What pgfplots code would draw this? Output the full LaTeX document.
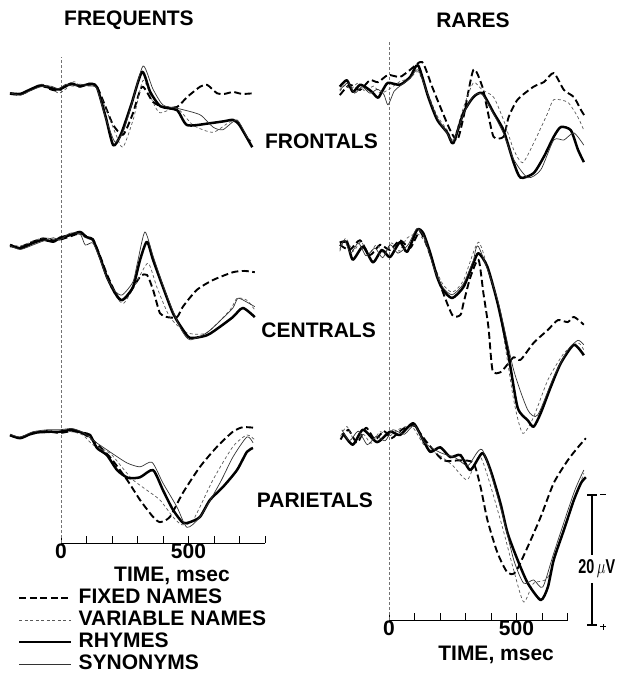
\documentclass[border=0pt]{standalone}
\usepackage{fontspec}
\setmainfont{Liberation Sans}
\usepackage{pgfplots}
\pgfplotsset{compat=1.18}
\newcommand\lbl{\fontsize{21}{24}\selectfont\bfseries}
\tikzset{
  fixedst/.style={black, line width=1.9pt, dash pattern=on 7pt off 3.5pt},
  varst/.style={black!65, line width=0.7pt, dash pattern=on 3pt off 2.5pt},
  rhymst/.style={black, line width=2.5pt},
  synst/.style={black!80, line width=0.7pt},
}
\pgfplotsset{
  panel/.style={scale only axis, width=265.2pt, height=130pt,
    xmin=-240, xmax=800, ymin=-10, ymax=10, y dir=reverse,
    axis lines=none, clip=false, anchor=south west},
  every axis plot/.append style={smooth, tension=0.4, mark=none, line join=round},
  frame/.style={scale only axis, anchor=south west, ymin=0, ymax=1,
    axis x line=bottom, axis y line=left,
    x axis line style={-, black, line width=0.9pt},
    y axis line style={-, black!55, line width=0.6pt, densely dashed},
    ytick=\empty, tick align=inside, major tick length=7pt,
    every tick/.style={black, line width=0.8pt},
    xticklabel style={font=\lbl, anchor=north, inner sep=1pt},
    xlabel style={font=\lbl, anchor=center, inner sep=0pt}},
}
\begin{document}
\begin{tikzpicture}[x=1pt,y=1pt]
\useasboundingbox (0,0) rectangle (616,677);

% ---------- frames (time axes and zero lines) ----------
\begin{axis}[frame, width=204pt, height=486pt, at={(61pt,134pt)},
  xmin=0, xmax=800, xtick={0,100,...,800}, xticklabels={0,,,,,500,,,},
  xlabel={TIME, msec}, xlabel style={at={(axis description cs:0.544,0)}, yshift=-33pt},
  legend style={at={(axis description cs:-0.2255,-0.0864)}, anchor=north west,
    draw=none, fill=none, font=\lbl, row sep=0pt,
    nodes={inner sep=1pt, text height=15pt, text depth=5pt},
    cells={anchor=west}},
  legend image code/.code={\draw[#1] (0pt,0pt) -- (52pt,0pt); \path (57pt,0pt);},
]
\addlegendimage{fixedst}\addlegendentry{FIXED NAMES}
\addlegendimage{varst}\addlegendentry{VARIABLE NAMES}
\addlegendimage{rhymst}\addlegendentry{RHYMES}
\addlegendimage{synst}\addlegendentry{SYNONYMS}
\end{axis}

\begin{axis}[frame, width=178.5pt, height=578pt, at={(389pt,57pt)},
  xmin=0, xmax=700, xtick={0,100,...,700}, xticklabels={0,,,,,500,,},
  xlabel={TIME, msec}, xlabel style={at={(axis description cs:0.6,0)}, yshift=-35pt},
]
\end{axis}

% ---------- FREQUENTS / FRONTALS ----------
\begin{axis}[panel, at={(-0.2pt,520pt)}]
\addplot[fixedst] coordinates {(-200,0.3) (-160,0.4) (-120,-0.3) (-80,-1.0) (-40,-0.4) (-10,-0.2) (20,-1.0) (45,-1.2) (75,-0.8) (110,-1.3) (140,-0.9) (180,2.8) (205,5.1) (243,6.6) (280,3.5) (318,-0.8) (360,1.5) (400,2.3) (455,2.3) (494,0.8) (545,-0.8) (573,-1.1) (612,0.2) (640,0.3) (675,0) (710,0.3) (753,0.2)};
\addplot[varst] coordinates {(-200,0.1) (-160,0.2) (-120,-0.5) (-80,-1.2) (-40,-0.8) (-10,0.2) (20,-0.5) (50,-1.6) (75,-1.0) (110,-1.0) (140,-0.6) (180,3.0) (215,6.5) (243,8.5) (285,4.0) (322,-1.8) (360,1.5) (388,3.2) (455,2.5) (518,5.1) (596,6.2) (663,4.6) (700,5.0) (735,7.6)};
\addplot[rhymst] coordinates {(-200,0.2) (-160,0.3) (-120,-0.4) (-80,-1.0) (-40,-0.6) (-10,-0.4) (20,-0.9) (40,-1.3) (75,-0.9) (110,-1.2) (140,-0.8) (175,3.8) (205,8.2) (235,6.5) (275,2.0) (318,-3.1) (350,0) (390,2.2) (455,2.8) (495,5.1) (585,4.8) (640,4.5) (675,4.3) (700,5.1) (750,8.5)};
\addplot[synst] coordinates {(-200,0.1) (-160,0.5) (-120,-0.2) (-80,-0.8) (-40,-0.9) (-10,-0.5) (20,-1.2) (45,-0.9) (75,-1.2) (110,-0.9) (140,-0.6) (175,4.0) (212,7.7) (245,6.0) (280,1.5) (322,-4.0) (360,-0.5) (400,2.0) (455,2.5) (545,3.5) (596,5.4) (635,5.8) (690,4.3) (729,6.9) (745,7.5)};
\end{axis}

% ---------- FREQUENTS / CENTRALS ----------
\begin{axis}[panel, at={(-0.2pt,369pt)}]
\addplot[fixedst] coordinates {(-200,0.5) (-160,0.6) (-110,-0.2) (-70,-0.7) (-30,-0.4) (-5,-0.5) (35,-1.0) (75,-1.5) (100,-1.0) (125,-0.6) (153,2.0) (180,4.8) (205,7.0) (231,8.8) (260,8.2) (310,5.2) (337,4.9) (361,7.2) (388,10.8) (416,11.4) (455,11.4) (478,9.8) (533,7.2) (596,5.7) (674,4.5) (720,4.3) (760,4.5)};
\addplot[varst] coordinates {(-200,0.2) (-160,0.5) (-110,-0.3) (-70,-0.8) (-30,-0.6) (-5,-0.4) (35,-1.4) (75,-1.3) (100,-0.7) (125,-0.3) (153,2.5) (180,5.5) (212,8.0) (245,9.3) (290,6.5) (341,3.1) (376,6.8) (427,11.4) (494,13.8) (572,13.8) (663,10.3) (690,8.5) (729,8.8) (760,10.3)};
\addplot[rhymst] coordinates {(-200,0.3) (-160,0.8) (-110,0) (-70,-0.5) (-30,-0.2) (-5,-0.8) (35,-1.2) (75,-1.7) (100,-0.9) (125,-0.5) (153,2.2) (180,5.2) (212,7.7) (240,8.8) (282,6.8) (310,2.6) (337,-0.2) (361,2.6) (400,6.8) (439,10.8) (474,13.1) (506,14.6) (572,14.2) (623,12.9) (674,11.4) (713,10.0) (760,11.4)};
\addplot[synst] coordinates {(-200,0.4) (-160,1.0) (-110,0.3) (-70,-0.3) (-30,-0.8) (-5,-0.5) (35,-1.5) (75,-1.4) (95,0.3) (125,0) (153,2.5) (180,5.4) (212,7.4) (240,8.0) (282,6.0) (300,3.0) (329,-1.7) (361,2.0) (400,6.5) (439,10.5) (474,13.5) (506,14.9) (572,13.8) (623,12.0) (674,10.0) (694,8.5) (729,9.1) (760,9.8)};
\end{axis}

% ---------- FREQUENTS / PARIETALS ----------
\begin{axis}[panel, at={(-0.2pt,177pt)}]
\addplot[fixedst] coordinates {(-200,0.1) (-160,0.4) (-110,-0.2) (-55,-0.6) (-5,-0.3) (43,-0.6) (86,-0.2) (125,0.8) (192,3.4) (259,6.9) (310,10.0) (361,12.6) (388,13.4) (427,12.6) (478,8.9) (545,4.9) (612,1.8) (674,-0.5) (713,-1.2) (761,-1.1)};
\addplot[varst] coordinates {(-200,0.2) (-160,0.3) (-110,-0.4) (-55,-0.3) (-5,-0.6) (43,-0.5) (86,0) (125,1.5) (192,2.8) (240,5.0) (282,6.9) (337,8.5) (388,10.0) (439,12.6) (474,13.8) (518,13.1) (596,6.9) (674,1.8) (729,0) (761,0.8)};
\addplot[rhymst] coordinates {(-200,0) (-160,0.5) (-110,-0.3) (-55,-0.5) (-5,-0.5) (43,-0.8) (86,-0.3) (114,0) (141,2.0) (180,3.1) (220,5.4) (263,6.6) (310,6.5) (361,5.4) (400,8.5) (439,11.5) (478,13.5) (506,13.4) (545,12.6) (584,10.0) (635,8.0) (690,5.4) (729,2.6) (753,2.0)};
\addplot[synst] coordinates {(-200,-0.1) (-160,0.3) (-110,-0.5) (-55,-0.8) (-5,-0.8) (43,-1.0) (86,-0.4) (125,0.8) (192,2.6) (259,4.3) (310,4.9) (357,4.2) (400,7.4) (455,11.1) (494,14.2) (545,12.6) (623,7.4) (674,3.4) (729,0.3) (753,1.2)};
\end{axis}

% ---------- RARES / FRONTALS ----------
\begin{axis}[panel, at={(327.8pt,524pt)}]
\addplot[fixedst] coordinates {(-193,1.1) (-154,-0.5) (-114,0.3) (-75,-1.2) (-43,-0.9) (-4,-2.0) (43,-1.7) (83,-2.8) (130,-4.0) (169,-0.2) (201,2.9) (240,6.5) (268,8.0) (292,4.5) (331,-2.8) (366,-0.2) (386,3.4) (410,7.5) (449,7.5) (469,4.5) (504,1.8) (567,-0.2) (607,-0.9) (646,-2.3) (686,0.3) (725,1.4) (753,3.4) (772,4.6)};
\addplot[varst] coordinates {(-193,0.5) (-170,-0.5) (-150,0.2) (-120,-0.8) (-95,0.5) (-60,-0.3) (-35,0.8) (-4,0.3) (43,-1.0) (83,-1.5) (114,-2.5) (154,1.0) (189,4.3) (229,6.5) (252,8.0) (292,3.0) (331,-0.8) (366,0.3) (410,1.4) (449,4.9) (489,9.5) (524,11.5) (567,8.5) (623,3.8) (646,1.8) (701,2.2) (741,4.5) (764,6.5)};
\addplot[rhymst] coordinates {(-193,-0.2) (-165,-1.2) (-142,0.6) (-114,-0.5) (-87,0) (-67,0.6) (-43,1.5) (-24,0.3) (-4,-0.8) (43,-0.5) (83,-1.7) (114,-3.5) (154,1.4) (189,4.9) (229,6.9) (252,8.5) (292,3.8) (331,1.4) (366,0.8) (410,3.8) (449,6.5) (489,11.5) (516,13.8) (567,13.1) (607,10.6) (646,7.5) (674,6.0) (713,6.5) (741,9.5) (764,11.4)};
\addplot[synst] coordinates {(-193,0.3) (-160,-0.8) (-135,0.8) (-105,-0.2) (-75,0.8) (-45,0.2) (-20,1.0) (-4,2.6) (20,0.5) (43,-0.3) (83,-1.5) (114,-2.8) (154,1.2) (189,4.6) (229,7.0) (252,8.2) (292,4.0) (331,1.2) (366,1.0) (410,4.0) (449,7.0) (489,11.0) (544,13.8) (595,12.6) (646,8.0) (686,8.0) (725,6.9) (764,8.8)};
\end{axis}

% ---------- RARES / CENTRALS ----------
\begin{axis}[panel, at={(327.8pt,364pt)}]
\addplot[fixedst] coordinates {(-193,-0.5) (-154,0.3) (-114,-1.2) (-75,1.1) (-35,-0.5) (4,0.3) (43,-1.2) (83,0) (122,-2.5) (162,1.1) (201,5.7) (248,10.3) (280,10.3) (292,8.5) (319,4.5) (351,1.8) (370,6.9) (390,12.2) (406,18.8) (437,19.1) (469,17.7) (489,16.8) (516,17.2) (567,14.6) (623,12.6) (662,11.1) (701,11.4) (725,10.6) (764,11.8)};
\addplot[varst] coordinates {(-193,0.5) (-170,-1.5) (-140,0.5) (-110,-1.0) (-80,1.0) (-50,-0.5) (-20,0.8) (10,-0.8) (40,0.5) (70,-1.5) (110,-2.2) (140,-1.0) (175,2.5) (210,5.5) (248,6.8) (292,5.0) (351,-0.9) (398,4.9) (437,10.6) (489,23.4) (524,28.5) (567,26.0) (623,20.3) (686,16.2) (741,14.6) (764,15.7)};
\addplot[rhymst] coordinates {(-193,-0.8) (-165,-0.9) (-142,1.8) (-102,-0.2) (-63,2.2) (-28,0.3) (4,1.4) (43,-0.9) (71,0.6) (110,-2.8) (134,-2.3) (162,0.8) (189,4.5) (213,6.5) (248,7.7) (292,6.0) (331,2.3) (351,0.8) (386,2.9) (426,8.5) (465,15.7) (504,24.5) (544,26.5) (567,27.5) (595,25.4) (634,21.4) (674,17.7) (725,14.9) (764,16.5)};
\addplot[synst] coordinates {(-193,0.2) (-175,-1.2) (-150,0.8) (-120,-0.8) (-90,1.2) (-55,0) (-25,1.5) (5,-0.5) (35,0.8) (75,-0.5) (110,-3.0) (140,-1.5) (175,3.0) (210,6.0) (248,7.2) (292,5.5) (330,2.0) (351,-0.2) (426,8.0) (489,18.8) (544,24.9) (583,25.7) (646,19.8) (701,15.7) (741,14.2) (764,14.9)};
\end{axis}

% ---------- RARES / PARIETALS ----------
\begin{axis}[panel, at={(327.8pt,179pt)}]
\addplot[fixedst] coordinates {(-190,1.0) (-160,-0.5) (-125,1.5) (-90,-0.8) (-55,1.0) (-20,-0.3) (10,0.8) (50,-0.5) (95,-1.2) (150,1.5) (213,4.2) (280,4.2) (331,4.6) (359,8.3) (386,13.4) (426,18.5) (465,21.5) (496,21.4) (544,17.5) (595,12.9) (646,7.7) (701,4.2) (741,2.2) (772,0.8)};
\addplot[varst] coordinates {(-190,0.5) (-165,-1.0) (-135,1.2) (-100,0.2) (-70,1.6) (-35,-0.2) (0,0.5) (40,-0.6) (90,-1.0) (140,2.0) (200,3.5) (250,5.0) (307,7.2) (359,3.7) (437,13.4) (489,21.1) (528,26.0) (567,23.1) (623,22.2) (686,14.9) (764,6.2)};
\addplot[rhymst] coordinates {(-181,0) (-142,1.8) (-102,-0.5) (-47,1.4) (4,-0.2) (43,0.3) (95,-1.5) (134,1.1) (162,2.9) (201,2.2) (240,3.7) (280,3.4) (319,5.7) (366,3.1) (398,5.7) (437,10.8) (465,15.4) (504,19.5) (544,23.1) (595,25.7) (623,23.7) (646,19.5) (686,14.9) (725,10.3) (753,7.7) (772,6.8)};
\addplot[synst] coordinates {(-185,-0.5) (-155,1.2) (-120,-0.3) (-85,1.8) (-50,0.5) (-15,1.2) (15,-0.5) (60,0.2) (100,-1.2) (140,1.5) (200,3.0) (260,3.8) (310,5.0) (366,2.6) (437,11.4) (489,19.5) (528,23.1) (567,22.6) (603,23.7) (646,18.5) (725,9.2) (764,5.7)};
\end{axis}

% ---------- titles and labels ----------
\node[font=\lbl, inner sep=0pt] at (129,657) {FREQUENTS};
\node[font=\lbl, inner sep=0pt] at (473,657) {RARES};
\node[font=\lbl, inner sep=0pt, anchor=east] at (378,536) {FRONTALS};
\node[font=\lbl, inner sep=0pt, anchor=east] at (376,347) {CENTRALS};
\node[font=\lbl, inner sep=0pt, anchor=east] at (373,177) {PARIETALS};

% ---------- calibration bar ----------
\draw[line width=1.2pt] (592,182) -- (592,122) (592,94) -- (592,52);
\draw[line width=1.2pt] (587,182) -- (597,182) (587,52) -- (597,52);
\draw[line width=1pt] (600,182) -- (606,182);
\draw[line width=1pt] (600,50) -- (606,50) (603,47) -- (603,53);
\node[inner sep=0pt, anchor=east] at (615.5,108) {\scalebox{0.72}[1]{\fontsize{20}{22}\selectfont\bfseries 20\,$\mu$V}};
\end{tikzpicture}
\end{document}
